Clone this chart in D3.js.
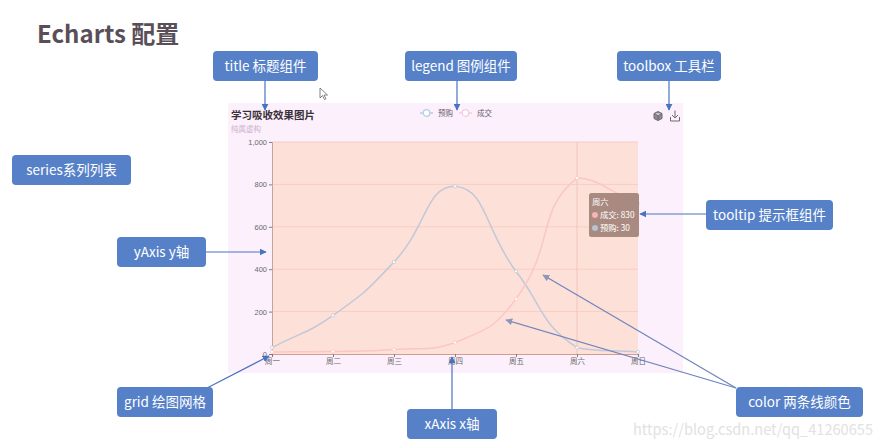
<!DOCTYPE html>
<html lang="zh">
<head>
<meta charset="utf-8">
<title>Echarts 配置</title>
<script src="https://d3js.org/d3.v7.min.js"></script>
<style>
    body { margin: 0; background: #fff; }
    text { font-family: "Noto Sans CJK SC", "Noto Sans", sans-serif; }
    .axis text { font-family: "Liberation Sans", "Noto Sans CJK SC", sans-serif; fill: #6a6a6a; font-size: 7.5px; }
</style>
</head>
<body>
<div id="main"></div>
<script>
// chart data (ECharts basic smooth line)
var days = ["周一", "周二", "周三", "周四", "周五", "周六", "周日"];
var dealValues = [10, 12, 21, 54, 260, 830, 710];      // 成交
var preValues = [30, 182, 434, 791, 390, 30, 10];      // 预购
var yTicks = [0, 200, 400, 600, 800, 1000];
var seriesNames = ["预购", "成交"];
var tipDay = "周六";

var width = 886, height = 447;
var svg = d3.select("#main").append("svg")
    .attr("width", width).attr("height", height);

var blue = "#5681c8";
var preColor = "#c3c8d8";
var dealColor = "#fbc6c6";

// smooth curve like echarts (smooth 0.5, control points kept in the bbox)
function echartsSmooth(context) {
    var pts;
    return {
        areaStart: function() {}, areaEnd: function() {},
        lineStart: function() { pts = []; },
        point: function(px, py) { pts.push([+px, +py]); },
        lineEnd: function() {
            var n = pts.length, cps = [];
            var xs = pts.map(function(p){ return p[0]; }), ys = pts.map(function(p){ return p[1]; });
            var mnx = d3.min(xs), mxx = d3.max(xs), mny = d3.min(ys), mxy = d3.max(ys);
            function clamp(p) {
                return [Math.max(mnx, Math.min(mxx, p[0])), Math.max(mny, Math.min(mxy, p[1]))];
            }
            for (var i = 0; i < n; i++) {
                var p = pts[i], pr = pts[i - 1] || p, nx = pts[i + 1] || p;
                var vx = (nx[0] - pr[0]) * 0.5, vy = (nx[1] - pr[1]) * 0.5;
                var d0 = Math.hypot(p[0] - pr[0], p[1] - pr[1]);
                var d1 = Math.hypot(p[0] - nx[0], p[1] - nx[1]);
                var s = d0 + d1;
                if (s !== 0) { d0 /= s; d1 /= s; }
                cps.push(clamp([p[0] - vx * d0, p[1] - vy * d0]));
                cps.push(clamp([p[0] + vx * d1, p[1] + vy * d1]));
            }
            context.moveTo(pts[0][0], pts[0][1]);
            for (var j = 1; j < n; j++) {
                var c1 = cps[2 * (j - 1) + 1], c2 = cps[2 * j];
                context.bezierCurveTo(c1[0], c1[1], c2[0], c2[1], pts[j][0], pts[j][1]);
            }
        }
    };
}

// arrow markers
var defs = svg.append("defs");
function marker(id, fill) {
    defs.append("marker").attr("id", id)
        .attr("viewBox", "0 0 10 10").attr("refX", 9).attr("refY", 5)
        .attr("markerWidth", 7).attr("markerHeight", 7)
        .attr("markerUnits", "userSpaceOnUse")
        .attr("orient", "auto")
        .append("path").attr("d", "M0,0L10,5L0,10z").attr("fill", fill);
}
marker("arr", "#4a72c2");
marker("arrGrey", "#8f96ba");

// page title
svg.append("text").attr("x", 37).attr("y", 43)
    .attr("font-size", 24).attr("font-weight", "bold").attr("fill", "#5a4f58")
    .text("Echarts 配置");

// chart background
svg.append("rect").attr("x", 228).attr("y", 103).attr("width", 455).attr("height", 270)
    .attr("fill", "#fcf0fc");

var x = d3.scalePoint().domain(days).range([272, 638]);
var y = d3.scaleLinear().domain([0, 1000]).range([354, 142]);

// grid background
svg.append("rect").attr("x", 272).attr("y", 142).attr("width", 366).attr("height", 212)
    .attr("fill", "#fde0d8");

svg.append("g").selectAll("line").data(yTicks.slice(1)).enter().append("line")
    .attr("x1", 272).attr("x2", 638)
    .attr("y1", function(d){ return y(d); }).attr("y2", function(d){ return y(d); })
    .attr("stroke", "#f8cdc3").attr("stroke-width", 1);

// axis pointer
svg.append("line").attr("x1", x(tipDay)).attr("x2", x(tipDay))
    .attr("y1", 142).attr("y2", 354).attr("stroke", "#f4c4ba").attr("stroke-width", 1);

var yAxis = svg.append("g").attr("class", "axis").attr("transform", "translate(272,0)")
    .call(d3.axisLeft(y).tickValues(yTicks).tickFormat(d3.format(",")).tickSize(3).tickPadding(2));
yAxis.select(".domain").attr("stroke", "#c9a39a");
yAxis.selectAll(".tick line").attr("stroke", "#8a7a80");

var xAxis = svg.append("g").attr("class", "axis").attr("transform", "translate(0,354)")
    .call(d3.axisBottom(x).tickSize(3).tickPadding(2));
xAxis.select(".domain").attr("stroke", "#d49c8a").attr("stroke-width", 1.2);
xAxis.selectAll(".tick line").attr("stroke", "#8a7a80");

var line = d3.line()
    .x(function(d, i){ return x(days[i]); })
    .y(function(d){ return y(d); })
    .curve(echartsSmooth);

[[preValues, preColor], [dealValues, dealColor]].forEach(function(s) {
    svg.append("path").datum(s[0]).attr("d", line)
        .attr("fill", "none").attr("stroke", s[1]).attr("stroke-width", 1.5);
    svg.append("g").selectAll("circle").data(s[0]).enter().append("circle")
        .attr("cx", function(d, i){ return x(days[i]); })
        .attr("cy", function(d){ return y(d); })
        .attr("r", 1.6).attr("fill", "#fff").attr("stroke", s[1]).attr("stroke-width", 0.8);
});

// chart title
svg.append("text").attr("x", 231).attr("y", 119)
    .attr("font-size", 10.5).attr("font-weight", "bold").attr("fill", "#3a3038")
    .text("学习吸收效果图片");
svg.append("text").attr("x", 231).attr("y", 132)
    .attr("font-size", 7.5).attr("fill", "#cdb2c8")
    .text("纯属虚构");

// legend
var legendX = [420, 459];
var legendColors = ["#b6cde6", "#f6cde0"];
seriesNames.forEach(function(n, i) {
    var g = svg.append("g").attr("transform", "translate(" + legendX[i] + ",113)");
    g.append("line").attr("x1", 0).attr("x2", 13).attr("stroke", legendColors[i]).attr("stroke-width", 1.5);
    g.append("circle").attr("cx", 6.5).attr("r", 3.3).attr("fill", "#fff")
        .attr("stroke", legendColors[i]).attr("stroke-width", 1.2);
    g.append("text").attr("x", 18).attr("y", 2.8).attr("font-size", 7.5).attr("fill", "#6a6068").text(n);
});

// toolbox icons
var tb = svg.append("g").attr("fill", "none").attr("stroke", "#6f6a70").attr("stroke-width", 1);
tb.append("path").attr("d", "M658,111.5 L662,113.5 L662,118.5 L658,120.5 L654,118.5 L654,113.5Z M654,113.5 L658,115.5 L662,113.5 M658,115.5 L658,120.5")
    .attr("fill", "#8d878e");
tb.append("path").attr("d", "M675,110.5 L675,118 M672,115 L675,118 L678,115 M670.5,117 L670.5,121 L679.5,121 L679.5,117");

// tooltip
var ti = days.indexOf(tipDay);
var tip = svg.append("g").attr("transform", "translate(589,193)");
tip.append("rect").attr("width", 50).attr("height", 44).attr("rx", 2.5).attr("fill", "#a98a80");
tip.append("text").attr("x", 3).attr("y", 12).attr("font-size", 8.3).attr("fill", "#fff").text(tipDay);
[["成交", dealValues[ti], "#f6b5b2"], ["预购", preValues[ti], "#b7c3d0"]].forEach(function(r, i) {
    tip.append("circle").attr("cx", 6).attr("cy", 22 + i * 13).attr("r", 3).attr("fill", r[2]);
    tip.append("text").attr("x", 11).attr("y", 25 + i * 13).attr("font-size", 8.3).attr("fill", "#fff")
        .text(r[0] + ": " + r[1]);
});

// mouse cursor
svg.append("path").attr("d", "M320,88 L320,98 L322.5,95.5 L324.5,99.5 L326,98.8 L324,95 L327.5,95 Z")
    .attr("fill", "#fff").attr("stroke", "#666").attr("stroke-width", 0.8);

// annotation arrows
var arrows = [
    [265, 81, 265, 110, "arr"], [457, 81, 457, 110, "arr"], [669, 81, 669, 110, "arr"],
    [206, 252, 266, 252, "arr"], [706, 214, 640, 214, "arr"],
    [207, 388, 269, 356, "arr"], [452, 409, 452, 357, "arr"],
    [736, 388, 543, 275, "arrGrey"], [736, 388, 506, 320, "arrGrey"]
];
svg.append("g").selectAll("line").data(arrows).enter().append("line")
    .attr("x1", function(d){ return d[0]; }).attr("y1", function(d){ return d[1]; })
    .attr("x2", function(d){ return d[2]; }).attr("y2", function(d){ return d[3]; })
    .attr("stroke", function(d){ return d[4] === "arr" ? "#4a72c2" : "#6f84bd"; })
    .attr("stroke-width", 1.2)
    .attr("marker-end", function(d){ return "url(#" + d[4] + ")"; });

// annotation labels
var notes = [
    ["title 标题组件", 213, 51, 105],
    ["legend 图例组件", 405, 51, 112],
    ["toolbox 工具栏", 617, 51, 104],
    ["series系列列表", 12, 155, 119],
    ["yAxis y轴", 117, 237, 89],
    ["tooltip 提示框组件", 706, 200, 127],
    ["grid 绘图网格", 117, 387, 96],
    ["xAxis x轴", 407, 409, 90],
    ["color 两条线颜色", 736, 387, 127]
];
var ng = svg.append("g").selectAll("g").data(notes).enter().append("g")
    .attr("transform", function(d){ return "translate(" + d[1] + "," + d[2] + ")"; });
ng.append("rect").attr("width", function(d){ return d[3]; }).attr("height", 30)
    .attr("rx", 4).attr("fill", blue);
ng.append("text").attr("x", function(d){ return d[3] / 2; }).attr("y", 20)
    .attr("text-anchor", "middle").attr("font-size", 13.5).attr("fill", "#fff")
    .text(function(d){ return d[0]; });

// watermark
svg.append("text").attr("x", 633).attr("y", 435)
    .attr("font-family", "Liberation Sans, sans-serif").attr("font-size", 15).attr("fill", "#e2e2e2")
    .attr("textLength", 240).attr("lengthAdjust", "spacingAndGlyphs")
    .text("https://blog.csdn.net/qq_41260655");
</script>
</body>
</html>
